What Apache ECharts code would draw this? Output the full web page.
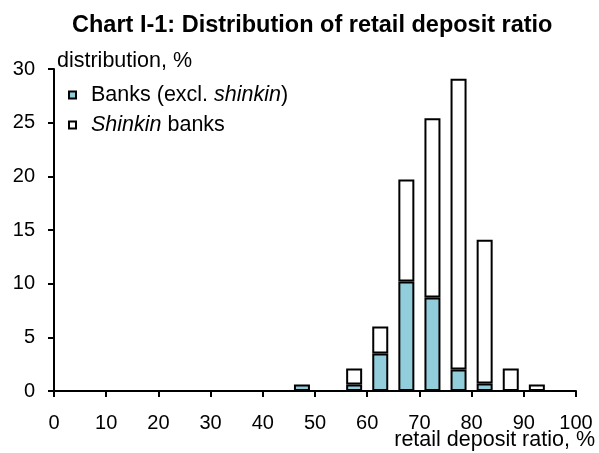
<!DOCTYPE html>
<html>
<head>
<meta charset="utf-8">
<script src="https://cdn.jsdelivr.net/npm/echarts@6/dist/echarts.min.js"></script>
<style>
  html, body { margin: 0; padding: 0; background: #fff; }
  #chart { width: 599px; height: 453px; }
</style>
</head>
<body>
<div id="chart"></div>
<script>
// bin mid-points (retail deposit ratio, %), bins are 5 points wide
const binMid = [47.5, 57.5, 62.5, 67.5, 72.5, 77.5, 82.5, 87.5, 92.5];
// distribution, %
const banks = [0.6, 0.6, 3.5, 10.2, 8.7, 2.0, 0.7, 0, 0];
const shinkin = [0, 1.5, 2.5, 9.5, 16.7, 27.1, 13.4, 2.1, 0.6];
// x tick labels
const xTicks = [0, 10, 20, 30, 40, 50, 60, 70, 80, 90, 100];

const font = '"Liberation Sans", Arial, sans-serif';
const binWidth = 5;
const nBins = 20;

// one category per 5-point bin, values placed in their bin
let binNames = [];
for (let i = 0; i < nBins; i++) binNames.push((i * binWidth) + '-' + ((i + 1) * binWidth));

function toBins(vals) {
  let out = new Array(nBins).fill(null);
  binMid.forEach((m, i) => {
    if (vals[i] > 0) out[Math.floor(m / binWidth)] = vals[i];
  });
  return out;
}

let chart = echarts.init(document.getElementById('chart'));
let option = {
  animation: false,
  title: {
    text: 'Chart I-1: Distribution of retail deposit ratio',
    left: 72,
    top: 14,
    padding: 0,
    textStyle: { fontFamily: font, fontSize: 23.5, fontWeight: 'bold', color: '#000' }
  },
  legend: {
    orient: 'vertical',
    left: 68,
    top: 84,
    padding: 0,
    itemGap: 8,
    itemWidth: 7,
    itemHeight: 7,
    icon: 'rect',
    data: ['Banks', 'Shinkin'],
    formatter: function (name) {
      if (name === 'Banks') return '{n|Banks (excl. }{i|shinkin}{n|)}';
      return '{i|Shinkin}{n| banks}';
    },
    textStyle: {
      fontFamily: font,
      fontSize: 21.5,
      color: '#000',
      padding: [0, 0, 0, 10],
      rich: {
        n: { fontFamily: font, fontSize: 21.5, color: '#000', lineHeight: 22 },
        i: { fontFamily: font, fontSize: 21.5, color: '#000', fontStyle: 'italic', lineHeight: 22 }
      }
    }
  },
  grid: { left: 54, right: 23, top: 69, bottom: 62, containLabel: false, outerBoundsMode: 'none' },
  xAxis: [
    {
      // bins, only used to place the bars
      type: 'category',
      position: 'top',
      show: false,
      data: binNames,
      boundaryGap: true
    },
    {
      type: 'value',
      position: 'bottom',
      min: 0,
      max: 100,
      interval: 10,
      name: 'retail deposit ratio, %',
      nameLocation: 'end',
      nameGap: 19,
      nameMoveOverlap: false,
      nameTextStyle: {
        fontFamily: font, fontSize: 21.5, color: '#000',
        align: 'right', verticalAlign: 'top', padding: [38, 0, 0, 0]
      },
      axisLine: { lineStyle: { color: '#000', width: 2 } },
      axisTick: { show: true, inside: false, length: 6, lineStyle: { color: '#000', width: 2 } },
      axisLabel: {
        fontFamily: font, fontSize: 20, color: '#000', margin: 22,
        formatter: v => xTicks.indexOf(v) >= 0 ? String(v) : ''
      },
      splitLine: { show: false }
    }
  ],
  yAxis: {
    type: 'value',
    min: 0,
    max: 30,
    interval: 5,
    name: 'distribution, %',
    nameLocation: 'end',
    nameGap: 8,
    nameTextStyle: {
      fontFamily: font, fontSize: 21.5, color: '#000',
      align: 'left', verticalAlign: 'middle', padding: [0, 0, 0, 3]
    },
    axisLine: { show: true, lineStyle: { color: '#000', width: 2 } },
    axisTick: { show: true, inside: false, length: 6, lineStyle: { color: '#000', width: 2 } },
    axisLabel: { fontFamily: font, fontSize: 20, color: '#000', margin: 19 },
    splitLine: { show: false }
  },
  series: [
    {
      name: 'Banks',
      type: 'bar',
      stack: 'total',
      xAxisIndex: 0,
      barWidth: 16,
      data: toBins(banks),
      itemStyle: { color: '#92CDDC', borderColor: '#000', borderWidth: 2 }
    },
    {
      name: 'Shinkin',
      type: 'bar',
      stack: 'total',
      xAxisIndex: 0,
      barWidth: 16,
      data: toBins(shinkin),
      itemStyle: { color: '#fff', borderColor: '#000', borderWidth: 2 }
    }
  ]
};
chart.setOption(option);
</script>
</body>
</html>
